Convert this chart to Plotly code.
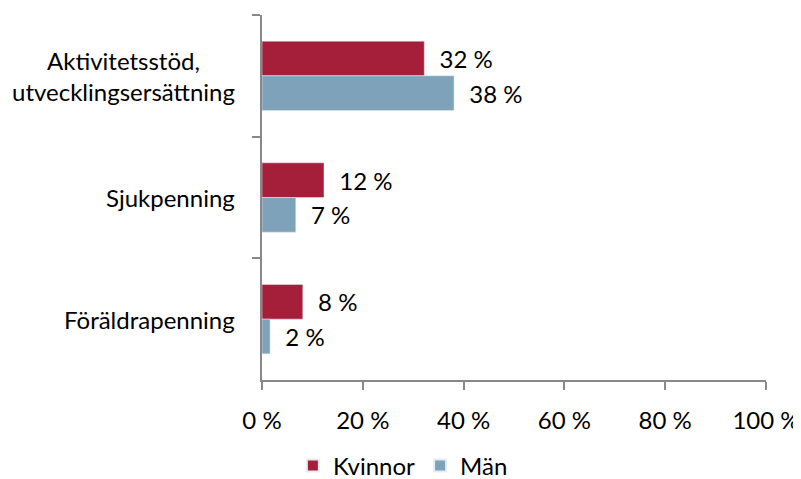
import plotly.graph_objects as go

categories = ["Aktivitetsstöd,<br>utvecklingsersättning", "Sjukpenning", "Föräldrapenning"]
kvinnor = [32.2, 12.3, 8.1]
man = [38.1, 6.7, 1.6]
x_ticks = [0, 20, 40, 60, 80, 100]
x_tick_labels = ["0 %", "20 %", "40 %", "60 %", "80 %", "100 %"]

FONT = "Lato"
FS = 24
PAD = "\u00a0\u00a0"

fig = go.Figure()
fig.add_trace(go.Bar(
    name="Kvinnor", y=categories, x=kvinnor, orientation="h",
    marker=dict(color="#A51F3B"),
    text=[PAD + f"{round(v)} %" for v in kvinnor], textposition="outside",
    textfont=dict(size=FS, color="#000000", family=FONT), cliponaxis=False,
))
fig.add_trace(go.Bar(
    name="Män", y=categories, x=man, orientation="h",
    marker=dict(color="#7EA2B9"),
    text=[PAD + f"{round(v)} %" for v in man], textposition="outside",
    textfont=dict(size=FS, color="#000000", family=FONT), cliponaxis=False,
))

for c in categories:
    fig.add_annotation(
        x=0, xref="paper", y=c, yref="y", text=c, showarrow=False,
        xanchor="right", yanchor="middle", align="center", xshift=-25,
        font=dict(size=FS, color="#000000", family=FONT),
    )

fig.update_layout(
    width=801, height=471,
    margin=dict(l=254, r=43, t=7, b=99, autoexpand=False),
    paper_bgcolor="white", plot_bgcolor="white",
    barmode="group", bargap=0.43, bargroupgap=0,
    font=dict(family=FONT, size=FS, color="#000000"),
    showlegend=True,
    legend=dict(orientation="h", xref="container", yref="container",
                x=0.493, xanchor="center", y=0.028, yanchor="middle",
                font=dict(size=FS, family=FONT), traceorder="normal",
                tracegroupgap=0, itemsizing="constant"),
    uniformtext=dict(mode=False),
)
fig.update_xaxes(
    range=[0, 100], tickvals=x_ticks, ticktext=x_tick_labels, automargin=False,
    showgrid=False, zeroline=False, showline=True, linecolor="#888888", linewidth=2,
    ticks="outside", ticklen=8, tickcolor="#888888", tickwidth=2,
    ticklabelstandoff=10, tickfont=dict(size=FS, family=FONT),
)
fig.update_yaxes(
    autorange="reversed", showgrid=False, zeroline=False, automargin=False,
    showline=True, linecolor="#888888", linewidth=2,
    ticks="outside", ticklen=8, tickcolor="#888888", tickwidth=2,
    tickson="boundaries", showticklabels=False,
)

fig.write_html("out.html")
